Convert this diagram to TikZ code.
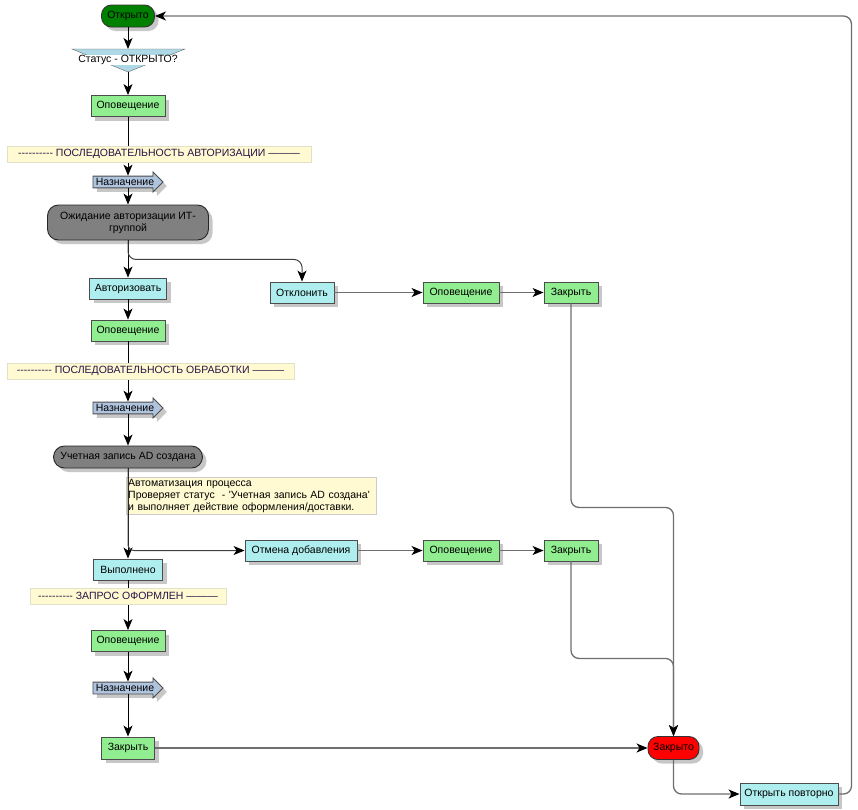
\documentclass[tikz,border=0pt]{standalone}
\usepackage{fontspec}
\setmainfont{Liberation Sans}[Ligatures=TeXOff]
\usetikzlibrary{shapes.arrows,shadows,arrows.meta}

\definecolor{termgreen}{RGB}{0,128,0}
\definecolor{termred}{RGB}{255,0,0}
\definecolor{mailgreen}{RGB}{144,238,144}
\definecolor{actcyan}{RGB}{175,238,238}
\definecolor{holdgray}{RGB}{128,128,128}
\definecolor{assignblue}{RGB}{176,196,222}
\definecolor{decblue}{RGB}{173,216,230}
\definecolor{bannerfill}{RGB}{255,250,210}
\definecolor{bannerline}{RGB}{225,225,200}
\definecolor{bannertext}{RGB}{40,20,70}
\definecolor{linegray}{RGB}{110,110,110}

\begin{document}
\begin{tikzpicture}[x=1pt,y=-1pt,
    font=\fontsize{10.5}{12}\selectfont,
    shade/.style={drop shadow={shadow xshift=4pt,shadow yshift=-4pt,fill=black!22,opacity=1}},
    box/.style={rectangle, draw=black!70, line width=0.9pt, minimum height=21pt, inner sep=2pt, shade},
    act/.style={box, fill=actcyan},
    mail/.style={box, fill=mailgreen},
    term/.style={rectangle, rounded corners=10pt, draw=black!80, line width=0.9pt, minimum height=22pt, inner sep=2pt, shade},
    hold/.style={rectangle, rounded corners=11pt, draw=black!85, line width=0.9pt, fill=holdgray, inner sep=2pt, shade},
    assign/.style={single arrow, draw=black!70, line width=0.9pt, fill=assignblue, minimum height=70pt, minimum width=20pt, single arrow head extend=3.5pt, inner sep=1pt, shade},
    banner/.style={rectangle, fill=bannerfill, draw=bannerline, minimum height=16pt, inner sep=2pt, text=bannertext},
    flow/.style={black, line width=0.9pt, -{Stealth[length=11pt,width=9pt,inset=3pt]}},
    side/.style={draw=linegray, line width=1.3pt, rounded corners=8pt, -{Stealth[color=black,length=11pt,width=9pt,inset=3pt]}}]
  \useasboundingbox (0,0) rectangle (858,809);

  % left column
  \node[term, fill=termgreen, minimum width=53pt] (open) at (128,16) {Открыто};
  \path[draw=black!60, fill=decblue] (72,49) -- (185,49) -- (128,72) -- cycle;
  \coordinate (dectop) at (128,49);
  \coordinate (decbot) at (128,72);
  \node[fill=white, inner sep=0.5pt] (dec) at (128,60) {Статус - ОТКРЫТО?};
  \node[mail, minimum width=74pt] (n1) at (128,106) {Оповещение};
  \node[assign] (as1) at (125,182) {Назначение};
  \node[hold, minimum width=161pt, minimum height=35pt, align=center] (hold1) at (128,222.5) {Ожидание авторизации ИТ-\\группой};
  \node[act, minimum width=77pt] (auth) at (128,288.5) {Авторизовать};
  \node[mail, minimum width=74pt] (n3) at (128,330.5) {Оповещение};
  \node[assign] (as2) at (125,408) {Назначение};
  \node[hold, minimum width=149pt, minimum height=22pt] (ad) at (128,457) {Учетная запись AD создана};
  \node[rectangle, fill=bannerfill, draw=black!20, text width=246pt, align=left, inner sep=2pt, anchor=north west] (note) at (126,477) {Автоматизация процесса\\Проверяет статус\ \ - 'Учетная запись AD создана'\\и выполняет действие оформления/доставки.};
  \node[act, minimum width=69pt] (done) at (128,569.5) {Выполнено};
  \node[mail, minimum width=74pt] (n5) at (128,641) {Оповещение};
  \node[assign] (as3) at (125,688) {Назначение};
  \node[mail, minimum width=53pt, minimum height=22pt] (cl3) at (128,748) {Закрыть};

  % right branches
  \node[act, minimum width=64pt] (rej) at (302,292.5) {Отклонить};
  \node[mail, minimum width=76pt] (n2) at (461,292.5) {Оповещение};
  \node[mail, minimum width=54pt] (cl1) at (571,292.5) {Закрыть};
  \node[act, minimum width=112pt] (cancel) at (301,550.5) {Отмена добавления};
  \node[mail, minimum width=76pt] (n4) at (461,550.5) {Оповещение};
  \node[mail, minimum width=54pt] (cl2) at (571,550.5) {Закрыть};
  \node[term, fill=termred, minimum width=51pt, minimum height=23pt] (closed) at (673.5,748) {Закрыто};
  \node[act, minimum width=98pt, minimum height=22pt] (reopen) at (789,794) {Открыть повторно};

  % main flow
  \draw[flow] (open) -- (dectop);
  \draw[flow] (decbot) -- (n1);
  \draw[flow] (n1) -- (n1.south |- as1.north);
  \draw[flow] (n1.south |- as1.south) -- (hold1);
  \draw[flow] (hold1) -- (auth);
  \draw[flow] (auth) -- (n3);
  \draw[flow] (n3) -- (n3.south |- as2.north);
  \draw[flow] (n3.south |- as2.south) -- (ad);
  \draw[flow] (ad) -- (done);
  \draw[flow] (done) -- (n5);
  \draw[flow] (n5) -- (n5.south |- as3.north);
  \draw[flow] (n5.south |- as3.south) -- (cl3);

  % branches
  \draw[side, draw=black!75, line width=1pt] (hold1.south) -- ++(0,19) -| (rej.north);
  \draw[side] (rej) -- (n2);
  \draw[side] (n2) -- (cl1);
  \draw[side, draw=black!75, line width=1pt, rounded corners=6pt] (ad.south) |- (cancel.west);
  \draw[side] (cancel) -- (n4);
  \draw[side] (n4) -- (cl2);
  \draw[side] (cl1.south) -- ++(0,204) -| (closed.north);
  \draw[side] (cl2.south) -- ++(0,97) -| (closed.north);
  \draw[side] (cl3) -- (closed);
  \draw[side] (closed.south) |- (reopen.west);
  \draw[side] (reopen.east) -- ++(13,0) |- (open.east);

  % banners over the flow
  \node[banner, minimum width=304pt] (ban1) at (159,154) {---------- ПОСЛЕДОВАТЕЛЬНОСТЬ АВТОРИЗАЦИИ ———};
  \node[banner, minimum width=287pt] (ban2) at (150.5,371) {---------- ПОСЛЕДОВАТЕЛЬНОСТЬ ОБРАБОТКИ ———};
  \node[banner, minimum width=196pt] (ban3) at (128,596) {---------- ЗАПРОС ОФОРМЛЕН ———};
\end{tikzpicture}
\end{document}
